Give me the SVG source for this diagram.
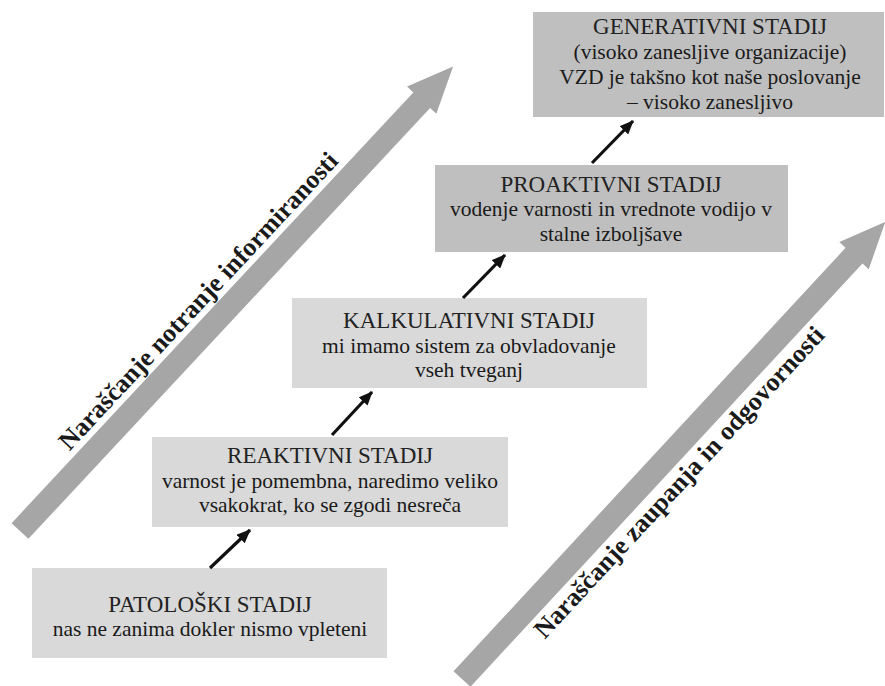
<svg xmlns="http://www.w3.org/2000/svg" width="885" height="686" viewBox="0 0 885 686" xml:lang="sl">
  <defs>
    <marker id="head" viewBox="0 0 14 12" refX="13" refY="6" markerWidth="14" markerHeight="12" markerUnits="userSpaceOnUse" orient="auto">
      <path d="M0,0 L14,6 L0,12 Z" fill="#111"/>
    </marker>
    <style>
      text { font-family: 'Liberation Serif', 'Times New Roman', serif; }
      .light { fill: #d9d9d9; }
      .dark { fill: #bfbfbf; }
      .axis { fill: #a6a6a6; }
      .title { font-size: 23px; fill: #222; text-anchor: middle; }
      .body { font-size: 21.5px; fill: #1a1a1a; text-anchor: middle; }
      .axis-label { font-size: 26px; font-weight: bold; fill: #1a1a1a; }
      .step { stroke: #111; stroke-width: 3.2; fill: none; marker-end: url(#head); }
    </style>
  </defs>
  <rect width="885" height="686" fill="#fff"/>

  <!-- broad trend arrows -->
  <g id="trend-information" transform="translate(20,531) rotate(-47)">
    <polygon class="axis" points="0,-11.5 589,-11.5 589,-20 635,0 589,20 589,11.5 0,11.5"/>
    <text class="axis-label" x="92" y="-18">Naraščanje notranje informiranosti</text>
  </g>
  <g id="trend-trust" transform="translate(462,679) rotate(-47.2)">
    <polygon class="axis" points="0,-11.5 577,-11.5 577,-20 623,0 577,20 577,11.5 0,11.5"/>
    <text class="axis-label" x="85" y="34">Naraščanje zaupanja in odgovornosti</text>
  </g>

  <!-- stages -->
  <g id="patoloski">
    <rect class="light" x="32" y="568" width="355" height="90"/>
    <text class="title" x="210" y="612">PATOLOŠKI STADIJ</text>
    <text class="body" x="210" y="636">nas ne zanima dokler nismo vpleteni</text>
  </g>
  <g id="reaktivni">
    <rect class="light" x="152" y="437" width="356" height="90"/>
    <text class="title" x="330" y="463">REAKTIVNI STADIJ</text>
    <text class="body" x="330" y="488">varnost je pomembna, naredimo veliko</text>
    <text class="body" x="330" y="512">vsakokrat, ko se zgodi nesreča</text>
  </g>
  <g id="kalkulativni">
    <rect class="light" x="292" y="298" width="355" height="90"/>
    <text class="title" x="469" y="328">KALKULATIVNI STADIJ</text>
    <text class="body" x="469" y="353">mi imamo sistem za obvladovanje</text>
    <text class="body" x="469" y="377">vseh tveganj</text>
  </g>
  <g id="proaktivni">
    <rect class="dark" x="435" y="165" width="353" height="87"/>
    <text class="title" x="611" y="192">PROAKTIVNI STADIJ</text>
    <text class="body" x="611" y="216">vodenje varnosti in vrednote vodijo v</text>
    <text class="body" x="611" y="241">stalne izboljšave</text>
  </g>
  <g id="generativni">
    <rect class="dark" x="533" y="12" width="351" height="105"/>
    <text class="title" x="710" y="34">GENERATIVNI STADIJ</text>
    <text class="body" x="710" y="59">(visoko zanesljive organizacije)</text>
    <text class="body" x="710" y="84">VZD je takšno kot naše poslovanje</text>
    <text class="body" x="710" y="109">– visoko zanesljivo</text>
  </g>

  <!-- stage transitions -->
  <g id="connectors">
    <line class="step" x1="210" y1="568" x2="250" y2="530"/>
    <line class="step" x1="332" y1="435" x2="372" y2="392"/>
    <line class="step" x1="463" y1="298" x2="505" y2="255"/>
    <line class="step" x1="592" y1="163" x2="633" y2="121"/>
  </g>
</svg>
